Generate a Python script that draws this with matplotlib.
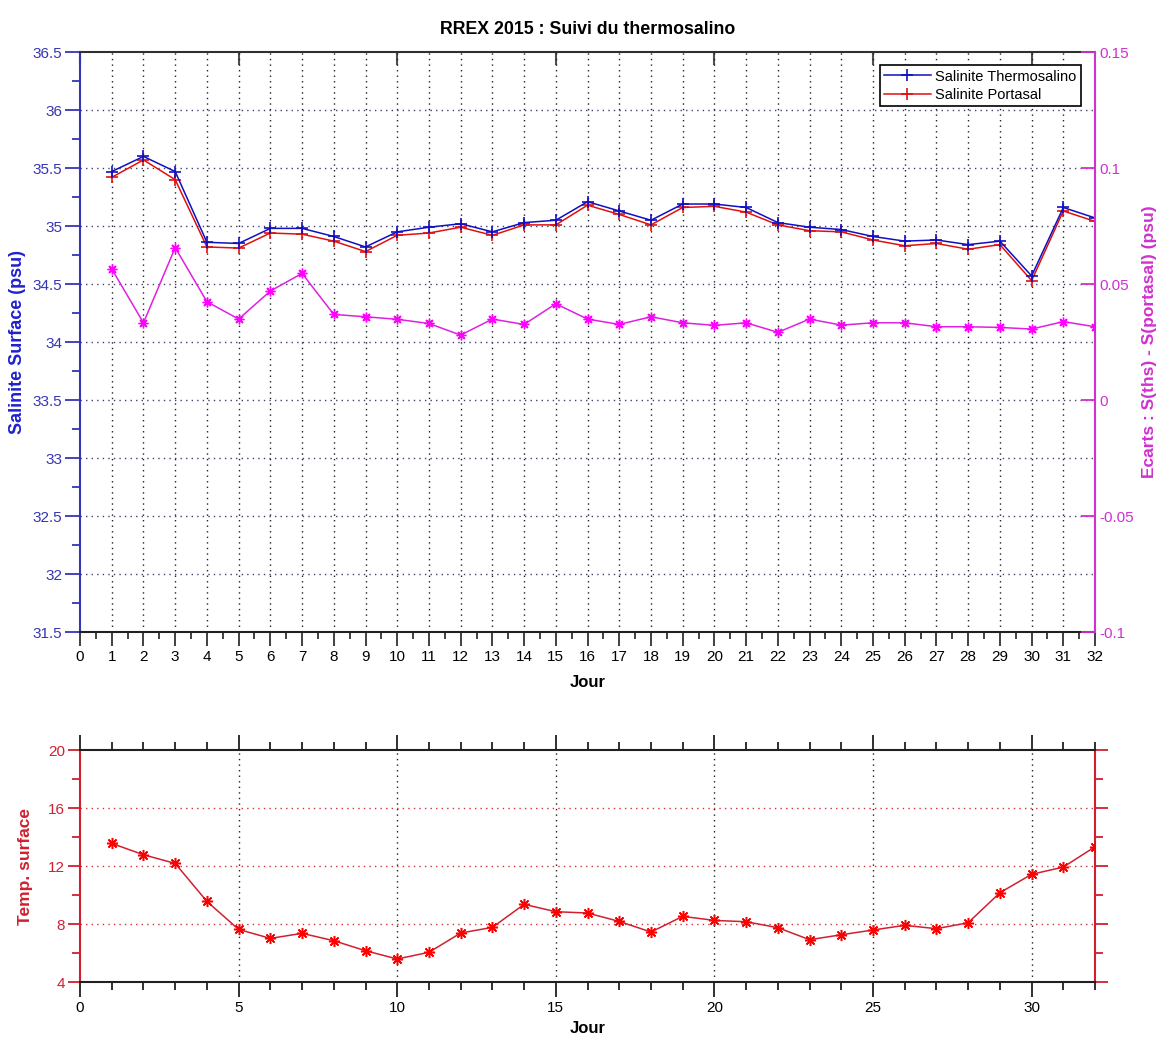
import matplotlib
matplotlib.use("Agg")
import matplotlib.pyplot as plt
from matplotlib.ticker import MultipleLocator

plt.rcParams['font.family'] = ['Liberation Sans', 'DejaVu Sans']

days = list(range(1, 33))
sal_ths = [35.47, 35.60, 35.47, 34.86, 34.85, 34.98, 34.98, 34.91, 34.82, 34.95,
           34.99, 35.02, 34.95, 35.03, 35.05, 35.21, 35.13, 35.05, 35.19, 35.19,
           35.16, 35.03, 34.99, 34.97, 34.91, 34.87, 34.88, 34.84, 34.87, 34.57,
           35.16, 35.07]
sal_port = [35.42, 35.57, 35.40, 34.82, 34.81, 34.94, 34.93, 34.87, 34.78, 34.92,
            34.94, 34.99, 34.92, 35.01, 35.01, 35.18, 35.10, 35.01, 35.16, 35.17,
            35.12, 35.01, 34.96, 34.95, 34.88, 34.83, 34.85, 34.80, 34.84, 34.53,
            35.13, 35.04]
ecart = [0.0565, 0.0333, 0.0657, 0.0424, 0.0349, 0.0470, 0.0546, 0.0369, 0.0359, 0.0348,
         0.0330, 0.0280, 0.0349, 0.0326, 0.0415, 0.0349, 0.0326, 0.0359, 0.0333, 0.0322,
         0.0333, 0.0292, 0.0349, 0.0323, 0.0333, 0.0333, 0.0316, 0.0316, 0.0313, 0.0306,
         0.0338, 0.0316]
temp = [13.56, 12.78, 12.18, 9.56, 7.63, 7.01, 7.36, 6.85, 6.16, 5.59,
        6.05, 7.38, 7.77, 9.36, 8.85, 8.76, 8.18, 7.45, 8.53, 8.25,
        8.16, 7.75, 6.92, 7.26, 7.59, 7.91, 7.68, 8.09, 10.16, 11.43,
        11.93, 13.33]

title = "RREX 2015 : Suivi du thermosalino"
sal_ticks = [31.5, 32, 32.5, 33, 33.5, 34, 34.5, 35, 35.5, 36, 36.5]
sal_labels = ["31.5", "32", "32.5", "33", "33.5", "34", "34.5", "35", "35.5", "36", "36.5"]
ec_ticks = [-0.1, -0.05, 0, 0.05, 0.1, 0.15]
ec_labels = ["-0.1", "-0.05", "0", "0.05", "0.1", "0.15"]
temp_ticks = [4, 8, 12, 16, 20]

BLUE = '#1010c0'
AXBLUE = '#3535b5'
RED = '#e01010'
MAG = '#e020e0'
AXMAG = '#d030d0'
TRED = '#d02030'
AST = (8, 2, 0)

fig = plt.figure(figsize=(11.6, 10.37), dpi=100)

# ---------------- top chart ----------------
ax = fig.add_axes([0.069, 0.3905, 0.875, 0.5593])
ax.set_xlim(0, 32)
ax.set_ylim(31.5, 36.5)

for d in range(1, 32):
    ax.axvline(d, color='#202020', ls=(0, (1, 3)), lw=1.0, zorder=1)
for v in sal_ticks[1:-1]:
    ax.axhline(v, color='#404070', ls=(0, (1, 3)), lw=1.0, zorder=1)

ax.plot(days, sal_ths, color=BLUE, lw=1.1, marker='+', ms=9, mew=1.2,
        label='Salinite Thermosalino', zorder=4)
ax.plot(days, sal_port, color=RED, lw=1.1, marker='+', ms=9, mew=1.2,
        label='Salinite Portasal', zorder=3)

ax.set_yticks(sal_ticks)
ax.set_yticklabels(sal_labels)
ax.yaxis.set_minor_locator(MultipleLocator(0.25))
ax.set_xticks(range(0, 33))
ax.set_xticklabels([str(i) for i in range(0, 33)])
ax.xaxis.set_minor_locator(MultipleLocator(0.5))
ax.tick_params(axis='y', which='major', direction='out', length=11, width=1.3,
               color=AXBLUE, labelcolor=AXBLUE, labelsize=11, pad=2)
ax.tick_params(axis='y', which='minor', direction='out', length=6, width=1.3, color=AXBLUE)
ax.tick_params(axis='x', which='major', direction='out', length=10, width=1.2,
               color='#202020', labelsize=11, pad=3)
ax.tick_params(axis='x', which='minor', direction='out', length=5, width=1.2, color='#202020')
ax.spines['left'].set_color(AXBLUE)
ax.spines['left'].set_linewidth(1.5)
ax.spines['bottom'].set_color('#202020')
ax.spines['bottom'].set_linewidth(1.5)
ax.spines['top'].set_color('#303030')
ax.spines['top'].set_linewidth(1.5)
ax.spines['right'].set_visible(False)

axt = ax.secondary_xaxis('top')
axt.set_xticks([0, 5, 10, 15, 20, 25, 30])
axt.tick_params(axis='x', direction='in', length=9, width=1.5, color='#505050',
                labeltop=False)
axt.spines['top'].set_visible(False)

ax.set_ylabel('Salinite Surface (psu)', color='#2020d0', fontsize=13,
              fontweight='bold')
ax.yaxis.set_label_coords(-0.053, 0.5)
ax.set_xlabel('Jour', fontsize=12, fontweight='bold', labelpad=8)
ax.set_title(title, fontsize=12.8, fontweight='bold', pad=13)

ax2 = ax.twinx()
ax2.set_ylim(-0.1, 0.15)
ax2.plot(days, ecart, color=MAG, lw=1.1, marker=AST, ms=7, mew=1.0,
         mfc='#ff00ff', mec='#ff00ff', zorder=3)
ax2.set_yticks(ec_ticks)
ax2.set_yticklabels(ec_labels)
ax2.tick_params(axis='y', which='major', direction='in', length=10, width=1.3,
                color=AXMAG, labelcolor=AXMAG, labelsize=11, pad=3)
ax2.spines['right'].set_color(AXMAG)
ax2.spines['right'].set_linewidth(1.5)
for s in ['left', 'top', 'bottom']:
    ax2.spines[s].set_visible(False)
ax2.set_ylabel('Ecarts : S(ths) - S(portasal) (psu)', color=AXMAG, fontsize=12.5,
               fontweight='bold')
ax2.yaxis.set_label_coords(1.046, 0.5)

leg = ax2.legend(handles=[l for l in ax.get_lines() if l.get_label().startswith('Salinite')],
                 loc='upper right', bbox_to_anchor=(0.993, 0.99), fontsize=10.5,
                 fancybox=False, framealpha=1, edgecolor='black',
                 borderpad=0.3, handlelength=3.2, handletextpad=0.3,
                 labelspacing=0.3)
leg.get_frame().set_linewidth(1.2)

# ---------------- bottom chart ----------------
bx = fig.add_axes([0.069, 0.0530, 0.875, 0.2237])
bx.set_xlim(0, 32)
bx.set_ylim(4, 20)
for d in [5, 10, 15, 20, 25, 30]:
    bx.axvline(d, color='#202020', ls=(0, (1, 3)), lw=1.0, zorder=1)
for v in [8, 12, 16]:
    bx.axhline(v, color='#d03040', ls=(0, (1, 3)), lw=1.0, zorder=1)

bx.plot(days, temp, color=TRED, lw=1.1, marker=AST, ms=8, mew=1.1,
        mfc='#ff0000', mec='#ff0000', zorder=3)

bx.set_yticks(temp_ticks)
bx.set_yticklabels([str(t) for t in temp_ticks])
bx.yaxis.set_minor_locator(MultipleLocator(2))
bx.set_xticks([0, 5, 10, 15, 20, 25, 30])
bx.set_xticklabels(['0', '5', '10', '15', '20', '25', '30'])
bx.xaxis.set_minor_locator(MultipleLocator(1))
bx.tick_params(axis='y', which='major', direction='out', length=9, width=1.3,
               color=TRED, labelcolor=TRED, labelsize=11, pad=2, right=True)
bx.tick_params(axis='y', which='minor', direction='out', length=6, width=1.3,
               color=TRED, right=True)
bx.tick_params(axis='y', which='both', labelright=False)
bx.tick_params(axis='x', which='major', direction='out', length=11, width=1.3,
               color='#202020', labelsize=11, pad=3, top=True)
bx.tick_params(axis='x', which='minor', direction='out', length=6, width=1.3,
               color='#202020', top=True)
for s in ['left', 'right']:
    bx.spines[s].set_color(TRED)
    bx.spines[s].set_linewidth(1.5)
for s in ['top', 'bottom']:
    bx.spines[s].set_color('#202020')
    bx.spines[s].set_linewidth(1.5)
bx.set_ylabel('Temp. surface', color=TRED, fontsize=12.5, fontweight='bold')
bx.yaxis.set_label_coords(-0.046, 0.5)
bx.set_xlabel('Jour', fontsize=12, fontweight='bold', labelpad=4)

fig.savefig('out.png', dpi=100)
